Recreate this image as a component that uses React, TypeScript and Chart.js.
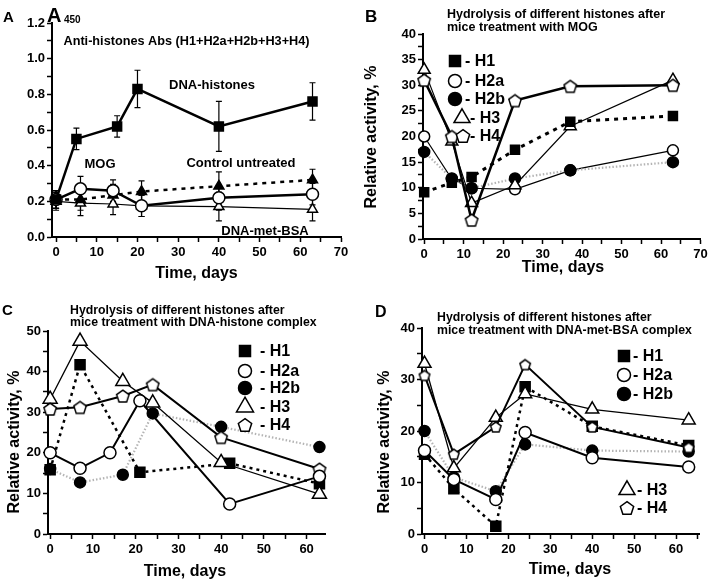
import React, { useEffect, useRef } from 'react';
import { Chart, registerables } from 'chart.js';
Chart.register(...registerables);

const FONT = "'Liberation Sans', Arial, sans-serif";

// ---------------- DATA ----------------
// Panel A : A450, anti-histone antibodies
const aXTicks = [0, 10, 20, 30, 40, 50, 60, 70];
const aYTicks = [0, 0.2, 0.4, 0.6, 0.8, 1.0, 1.2];
const aDnaHistDays = [0, 5, 15, 20, 40, 63];
const aDnaHist = [0.21, 0.55, 0.62, 0.83, 0.62, 0.76];
const aDnaHistErr = [0.05, 0.06, 0.06, 0.105, 0.14, 0.105];
const aMogDays = [0, 6, 14, 21, 40, 63];
const aMog = [0.21, 0.27, 0.26, 0.175, 0.22, 0.24];
const aMogErr = [0.05, 0.07, 0.06, 0.06, 0.07, 0.06];
const aCtrlDays = [0, 6, 14, 21, 40, 63];
const aCtrl = [0.21, 0.21, 0.235, 0.255, 0.285, 0.32];
const aCtrlErr = [0.05, 0.06, 0.06, 0.06, 0.08, 0.06];
const aBsaDays = [0, 6, 14, 21, 40, 63];
const aBsa = [0.2, 0.19, 0.185, 0.175, 0.17, 0.155];
const aBsaErr = [0.05, 0.07, 0.06, 0.06, 0.08, 0.065];

// Panel B : MOG
const bXTicks = [0, 10, 20, 30, 40, 50, 60, 70];
const bYTicks = [0, 5, 10, 15, 20, 25, 30, 35, 40];
const bDays = [0, 7, 12, 23, 37, 63];
const bH1 = [9.1, 11, 12.1, 17.4, 22.9, 24];
const bH2a = [20, 11.7, 9.9, 9.7, 13.4, 17.3];
const bH2b = [17, 11.8, 9.9, 11.8, 13.4, 15];
const bH3 = [33, 19, 7, 10.5, 22, 31];
const bH4 = [31, 20, 3.7, 27, 29.8, 30];

// Panel C : DNA-histone complex
const cXTicks = [0, 10, 20, 30, 40, 50, 60];
const cYTicks = [0, 10, 20, 30, 40, 50];
const cH1Days = [0, 7, 21, 42, 63];
const cH1 = [15.8, 41.7, 15.2, 17.4, 12.4];
const cH2aDays = [0, 7, 14, 21, 42, 63];
const cH2a = [20, 16.2, 20, 32.8, 7.4, 14.2];
const cDays = [0, 7, 17, 24, 40, 63];
const cH2b = [16, 12.7, 14.6, 29.7, 26.4, 21.4];
const cH3 = [33.2, 47.5, 37.6, 32.3, 17.6, 9.8];
const cH4 = [30.8, 31.2, 34, 36.8, 23.8, 16];

// Panel D : DNA-met-BSA complex
const dXTicks = [0, 10, 20, 30, 40, 50, 60];
const dYTicks = [0, 10, 20, 30, 40];
const dDays = [0, 7, 17, 24, 40, 63];
const dH1 = [15.5, 8.8, 1.5, 28.6, 20.9, 17.2];
const dH2a = [16.2, 10.6, 6.7, 19.7, 14.8, 13];
const dH2b = [20, 11, 8.3, 17.4, 16.2, 16];
const dH3 = [33.1, 12.8, 22.6, 27.2, 24.2, 22.1];
const dH4 = [30.8, 15.5, 20.8, 32.9, 20.8, 16.8];

// ---------------- TYPES / HELPERS ----------------
type Kind = 'sq' | 'oc' | 'fc' | 'ot' | 'ft' | 'pent';
interface Series { label: string; xs: number[]; ys: number[]; err?: number[]; kind: Kind; size: number; lw: number; dash: number[]; color: string; }
interface Txt { t: string; x: number; y: number; size: number; align?: CanvasTextAlign; rot?: boolean; }
interface Leg { kind: Kind; size: number; mx: number; tx: number; y: number; t: string; }
interface Panel {
  left: number; top: number; w: number; h: number;
  area: { l: number; r: number; t: number; b: number };
  xMin: number; xMax: number; yMin: number; yMax: number;
  xTicks: number[]; yTicks: number[]; xMinorStep: number; yMinorStep: number; yDec: number;
  series: Series[]; texts: Txt[]; legend: Leg[];
}

const pentCache: Record<string, HTMLCanvasElement> = {};
function pentagon(size: number, lw: number): HTMLCanvasElement {
  const key = size + '_' + lw;
  if (pentCache[key]) return pentCache[key];
  const c = document.createElement('canvas');
  const S = Math.ceil(size + lw * 2);
  c.width = S; c.height = S;
  const g = c.getContext('2d')!;
  pentPath(g, S / 2, S / 2, size / 2);
  g.fillStyle = '#fff'; g.fill();
  g.lineWidth = lw; g.strokeStyle = '#000'; g.stroke();
  pentCache[key] = c;
  return c;
}
function pentPath(g: CanvasRenderingContext2D, cx: number, cy: number, r: number) {
  const off = r * (1 - Math.cos(Math.PI / 5)) / 2;
  g.beginPath();
  for (let i = 0; i < 5; i++) {
    const a = -Math.PI / 2 + (i * 2 * Math.PI) / 5;
    const x = cx + r * Math.cos(a), y = cy + off + r * Math.sin(a);
    if (i === 0) g.moveTo(x, y); else g.lineTo(x, y);
  }
  g.closePath();
}

function markerProps(kind: Kind, size: number) {
  switch (kind) {
    case 'sq': return { style: 'rect', radius: size / (2 * Math.SQRT1_2), fill: '#000' };
    case 'oc': return { style: 'circle', radius: size / 2, fill: '#fff' };
    case 'fc': return { style: 'circle', radius: size / 2, fill: '#000' };
    case 'ot': return { style: 'triangle', radius: size / Math.sqrt(3), fill: '#fff' };
    case 'ft': return { style: 'triangle', radius: size / Math.sqrt(3), fill: '#000' };
    default: return { style: pentagon(size, 1.5) as any, radius: size / 2, fill: '#fff' };
  }
}

function drawMarker(g: CanvasRenderingContext2D, kind: Kind, x: number, y: number, size: number) {
  g.save();
  g.lineWidth = 1.5; g.strokeStyle = '#000';
  const filled = kind === 'sq' || kind === 'fc' || kind === 'ft';
  g.fillStyle = filled ? '#000' : '#fff';
  g.beginPath();
  if (kind === 'sq') { g.rect(x - size / 2, y - size / 2, size, size); }
  else if (kind === 'oc' || kind === 'fc') { g.arc(x, y, size / 2, 0, Math.PI * 2); }
  else if (kind === 'ot' || kind === 'ft') {
    const r = size / Math.sqrt(3);
    g.moveTo(x, y - r); g.lineTo(x + size / 2, y + r / 2); g.lineTo(x - size / 2, y + r / 2); g.closePath();
  } else { pentPath(g, x, y, size / 2); }
  g.fill(); g.stroke();
  g.restore();
}

function withMinors(majors: number[], step: number, max: number): number[] {
  const out: number[] = [];
  for (let i = 0; i < majors.length; i++) {
    out.push(majors[i]);
    const m = majors[i] + step;
    if (step > 0 && m <= max + 1e-9 && (i < majors.length - 1 ? m < majors[i + 1] - 1e-9 : true)) out.push(m);
  }
  return out;
}
function isMajor(v: number, majors: number[]) { return majors.some(m => Math.abs(m - v) < 1e-9); }

function buildConfig(p: Panel): any {
  const datasets = p.series.slice().reverse().map(s => {
    const m = markerProps(s.kind, s.size);
    return {
      label: s.label,
      data: s.xs.map((x, i) => ({ x, y: s.ys[i] })),
      err: s.err,
      showLine: true,
      borderColor: s.color,
      borderWidth: s.lw,
      borderDash: s.dash,
      pointStyle: m.style,
      pointRadius: m.radius,
      pointHoverRadius: m.radius,
      pointBackgroundColor: m.fill,
      pointBorderColor: '#000',
      pointBorderWidth: 1.5,
      tension: 0,
      fill: false,
      clip: false,
    };
  });
  const xAll = withMinors(p.xTicks, p.xMinorStep, p.xMax);
  const yAll = withMinors(p.yTicks, p.yMinorStep, p.yMax);
  const tickFont = { family: FONT, size: 13, weight: 'bold' as const };

  const errPlugin = {
    id: 'errbars',
    beforeDatasetsDraw(chart: any) {
      const { ctx } = chart; const xs = chart.scales.x, ys = chart.scales.y;
      chart.data.datasets.forEach((d: any) => {
        if (!d.err) return;
        ctx.save(); ctx.strokeStyle = '#000'; ctx.lineWidth = 1.2;
        d.data.forEach((pt: any, i: number) => {
          const px = xs.getPixelForValue(pt.x);
          const y1 = ys.getPixelForValue(pt.y - d.err[i]);
          const y2 = ys.getPixelForValue(pt.y + d.err[i]);
          ctx.beginPath();
          ctx.moveTo(px, y1); ctx.lineTo(px, y2);
          ctx.moveTo(px - 3, y1); ctx.lineTo(px + 3, y1);
          ctx.moveTo(px - 3, y2); ctx.lineTo(px + 3, y2);
          ctx.stroke();
        });
        ctx.restore();
      });
    },
  };
  const decorPlugin = {
    id: 'decor',
    afterDraw(chart: any) {
      const g: CanvasRenderingContext2D = chart.ctx;
      g.save();
      g.fillStyle = '#000';
      g.textBaseline = 'middle';
      p.texts.forEach(t => {
        g.font = `bold ${t.size}px ${FONT}`;
        g.textAlign = t.align || 'left';
        if (t.rot) {
          g.save(); g.translate(t.x, t.y); g.rotate(-Math.PI / 2);
          g.textAlign = 'center'; g.fillText(t.t, 0, 0); g.restore();
        } else g.fillText(t.t, t.x, t.y);
      });
      p.legend.forEach(l => {
        drawMarker(g, l.kind, l.mx, l.y, l.size);
        g.font = `bold 16px ${FONT}`;
        g.textAlign = 'left';
        g.fillStyle = '#000';
        g.fillText(l.t, l.tx, l.y + 1);
      });
      g.restore();
    },
  };

  return {
    type: 'scatter',
    data: { datasets },
    options: {
      animation: false,
      responsive: false,
      devicePixelRatio: 1,
      layout: { padding: { left: 0, top: p.area.t, right: p.w - p.area.r, bottom: 0 } },
      plugins: { legend: { display: false }, tooltip: { enabled: false }, title: { display: false } },
      events: [],
      scales: {
        x: {
          type: 'linear', position: 'bottom', min: p.xMin, max: p.xMax,
          grid: { drawOnChartArea: false, drawTicks: true, tickLength: 5, tickColor: '#000', tickWidth: 1.5 },
          border: { display: true, color: '#000', width: 2 },
          ticks: {
            autoSkip: false, maxRotation: 0, padding: 3, color: '#000', font: tickFont,
            callback: (v: number) => (isMajor(v, p.xTicks) ? String(v) : ''),
          },
          afterBuildTicks: (s: any) => { s.ticks = xAll.map(v => ({ value: v })); },
          afterFit: (s: any) => { s.height = p.h - p.area.b; s.paddingLeft = 0; s.paddingRight = 0; },
        },
        y: {
          type: 'linear', position: 'left', min: p.yMin, max: p.yMax,
          grid: { drawOnChartArea: false, drawTicks: true, tickLength: 5, tickColor: '#000', tickWidth: 1.5 },
          border: { display: true, color: '#000', width: 2 },
          ticks: {
            autoSkip: false, padding: 2, color: '#000', font: tickFont,
            callback: (v: number) => (isMajor(v, p.yTicks) ? v.toFixed(p.yDec) : ''),
          },
          afterBuildTicks: (s: any) => { s.ticks = yAll.map(v => ({ value: v })); },
          afterFit: (s: any) => { s.width = p.area.l; s.paddingTop = 0; s.paddingBottom = 0; },
        },
      },
    },
    plugins: [errPlugin, decorPlugin],
  };
}

// ---------------- PANELS ----------------
const BLACK = '#000';
const GREY = '#b4b4b4';
const TITLE1 = 'Hydrolysis of different histones after';

const panels: Panel[] = [
  {
    left: 0, top: 0, w: 355, h: 290,
    area: { l: 52, r: 341, t: 23, b: 237 },
    xMin: -1, xMax: 70, yMin: 0, yMax: 1.2,
    xTicks: aXTicks, yTicks: aYTicks, xMinorStep: 5, yMinorStep: 0.1, yDec: 1,
    series: [
      { label: 'DNA-met-BSA', xs: aBsaDays, ys: aBsa, err: aBsaErr, kind: 'ot', size: 10, lw: 1.2, dash: [], color: BLACK },
      { label: 'Control untreated', xs: aCtrlDays, ys: aCtrl, err: aCtrlErr, kind: 'ft', size: 10, lw: 2.5, dash: [4, 5], color: BLACK },
      { label: 'MOG', xs: aMogDays, ys: aMog, err: aMogErr, kind: 'oc', size: 12, lw: 2.5, dash: [], color: BLACK },
      { label: 'DNA-histones', xs: aDnaHistDays, ys: aDnaHist, err: aDnaHistErr, kind: 'sq', size: 9, lw: 2.5, dash: [], color: BLACK },
    ],
    texts: [
      { t: 'A', x: 3, y: 18, size: 15 },
      { t: 'A', x: 47, y: 16, size: 20 },
      { t: '450', x: 64, y: 20, size: 10 },
      { t: 'Anti-histones Abs (H1+H2a+H2b+H3+H4)', x: 186.5, y: 41, size: 12.7, align: 'center' },
      { t: 'DNA-histones', x: 212, y: 85, size: 13, align: 'center' },
      { t: 'MOG', x: 100, y: 164, size: 13, align: 'center' },
      { t: 'Control untreated', x: 241, y: 163, size: 13, align: 'center' },
      { t: 'DNA-met-BSA', x: 265, y: 231, size: 13, align: 'center' },
      { t: 'Time, days', x: 196.5, y: 274, size: 16, align: 'center' },
    ],
    legend: [],
  },
  {
    left: 355, top: 0, w: 354, h: 290,
    area: { l: 68, r: 347, t: 34, b: 239 },
    xMin: -0.3, xMax: 70, yMin: 0, yMax: 40,
    xTicks: bXTicks, yTicks: bYTicks, xMinorStep: 5, yMinorStep: 2.5, yDec: 0,
    series: [
      { label: 'H2a', xs: bDays, ys: bH2a, kind: 'oc', size: 11, lw: 1.2, dash: [], color: BLACK },
      { label: 'H2b', xs: bDays, ys: bH2b, kind: 'fc', size: 11, lw: 2.2, dash: [1.5, 2], color: GREY },
      { label: 'H3', xs: bDays, ys: bH3, kind: 'ot', size: 12, lw: 1.2, dash: [], color: BLACK },
      { label: 'H1', xs: bDays, ys: bH1, kind: 'sq', size: 9, lw: 3, dash: [4, 5], color: BLACK },
      { label: 'H4', xs: bDays, ys: bH4, kind: 'pent', size: 13, lw: 2.5, dash: [], color: BLACK },
    ],
    texts: [
      { t: 'B', x: 10, y: 17, size: 17 },
      { t: TITLE1, x: 92, y: 15, size: 12.5 },
      { t: 'mice treatment with MOG', x: 92, y: 28, size: 12.5 },
      { t: 'Time, days', x: 208, y: 268, size: 16, align: 'center' },
      { t: 'Relative activity, %', x: 17, y: 137, size: 16, rot: true },
    ],
    legend: [
      { kind: 'sq', size: 11, mx: 100, tx: 110, y: 61, t: '- H1' },
      { kind: 'oc', size: 13, mx: 100, tx: 110, y: 81, t: '- H2a' },
      { kind: 'fc', size: 13, mx: 100, tx: 110, y: 99, t: '- H2b' },
      { kind: 'ot', size: 16, mx: 107, tx: 115, y: 118, t: '- H3' },
      { kind: 'pent', size: 14, mx: 108, tx: 115, y: 136, t: '- H4' },
    ],
  },
  {
    left: 0, top: 290, w: 355, h: 290,
    area: { l: 48, r: 325, t: 41, b: 244 },
    xMin: -0.5, xMax: 64.3, yMin: 0, yMax: 50,
    xTicks: cXTicks, yTicks: cYTicks, xMinorStep: 5, yMinorStep: 5, yDec: 0,
    series: [
      { label: 'H2b', xs: cDays, ys: cH2b, kind: 'fc', size: 11, lw: 2.2, dash: [1.5, 2], color: GREY },
      { label: 'H1', xs: cH1Days, ys: cH1, kind: 'sq', size: 10, lw: 2.5, dash: [3, 4], color: BLACK },
      { label: 'H3', xs: cDays, ys: cH3, kind: 'ot', size: 14, lw: 1.3, dash: [], color: BLACK },
      { label: 'H4', xs: cDays, ys: cH4, kind: 'pent', size: 13, lw: 2, dash: [], color: BLACK },
      { label: 'H2a', xs: cH2aDays, ys: cH2a, kind: 'oc', size: 12, lw: 2, dash: [], color: BLACK },
    ],
    texts: [
      { t: 'C', x: 2, y: 21, size: 15 },
      { t: TITLE1, x: 70, y: 21, size: 12.3 },
      { t: 'mice treatment with DNA-histone complex', x: 70, y: 33, size: 12.3 },
      { t: 'Time, days', x: 185, y: 282, size: 16, align: 'center' },
      { t: 'Relative activity, %', x: 15, y: 152, size: 16, rot: true },
    ],
    legend: [
      { kind: 'sq', size: 11, mx: 245, tx: 260, y: 61, t: '- H1' },
      { kind: 'oc', size: 13, mx: 245, tx: 260, y: 81, t: '- H2a' },
      { kind: 'fc', size: 13, mx: 245, tx: 260, y: 98, t: '- H2b' },
      { kind: 'ot', size: 17, mx: 245, tx: 260, y: 117, t: '- H3' },
      { kind: 'pent', size: 14, mx: 245, tx: 260, y: 135, t: '- H4' },
    ],
  },
  {
    left: 355, top: 290, w: 354, h: 290,
    area: { l: 67, r: 347, t: 38, b: 244 },
    xMin: -0.6, xMax: 65.7, yMin: 0, yMax: 40,
    xTicks: dXTicks, yTicks: dYTicks, xMinorStep: 5, yMinorStep: 5, yDec: 0,
    series: [
      { label: 'H2b', xs: dDays, ys: dH2b, kind: 'fc', size: 11, lw: 2.2, dash: [1.5, 2], color: GREY },
      { label: 'H1', xs: dDays, ys: dH1, kind: 'sq', size: 10, lw: 2.5, dash: [3, 4], color: BLACK },
      { label: 'H3', xs: dDays, ys: dH3, kind: 'ot', size: 13, lw: 1.3, dash: [], color: BLACK },
      { label: 'H4', xs: dDays, ys: dH4, kind: 'pent', size: 11, lw: 2, dash: [], color: BLACK },
      { label: 'H2a', xs: dDays, ys: dH2a, kind: 'oc', size: 12, lw: 2, dash: [], color: BLACK },
    ],
    texts: [
      { t: 'D', x: 20, y: 23, size: 16 },
      { t: TITLE1, x: 82, y: 28, size: 12.3 },
      { t: 'mice treatment with DNA-met-BSA complex', x: 82, y: 41, size: 12.3 },
      { t: 'Time, days', x: 215, y: 280, size: 16, align: 'center' },
      { t: 'Relative activity, %', x: 30, y: 152, size: 16, rot: true },
    ],
    legend: [
      { kind: 'sq', size: 11, mx: 269, tx: 278, y: 66, t: '- H1' },
      { kind: 'oc', size: 13, mx: 269, tx: 278, y: 85, t: '- H2a' },
      { kind: 'fc', size: 13, mx: 269, tx: 278, y: 104, t: '- H2b' },
      { kind: 'ot', size: 16, mx: 272, tx: 282, y: 200, t: '- H3' },
      { kind: 'pent', size: 14, mx: 272, tx: 282, y: 218, t: '- H4' },
    ],
  },
];

function PanelChart({ p }: { p: Panel }) {
  const ref = useRef<HTMLCanvasElement>(null);
  useEffect(() => {
    const chart = new Chart(ref.current!, buildConfig(p));
    return () => chart.destroy();
  }, [p]);
  return (
    <canvas
      ref={ref}
      width={p.w}
      height={p.h}
      style={{ position: 'absolute', left: p.left, top: p.top, width: p.w, height: p.h, display: 'block' }}
    />
  );
}

export default function App() {
  return (
    <div style={{ position: 'absolute', left: 0, top: 0, width: 709, height: 580, background: '#fff', overflow: 'hidden' }}>
      {panels.map((p, i) => <PanelChart key={i} p={p} />)}
    </div>
  );
}
